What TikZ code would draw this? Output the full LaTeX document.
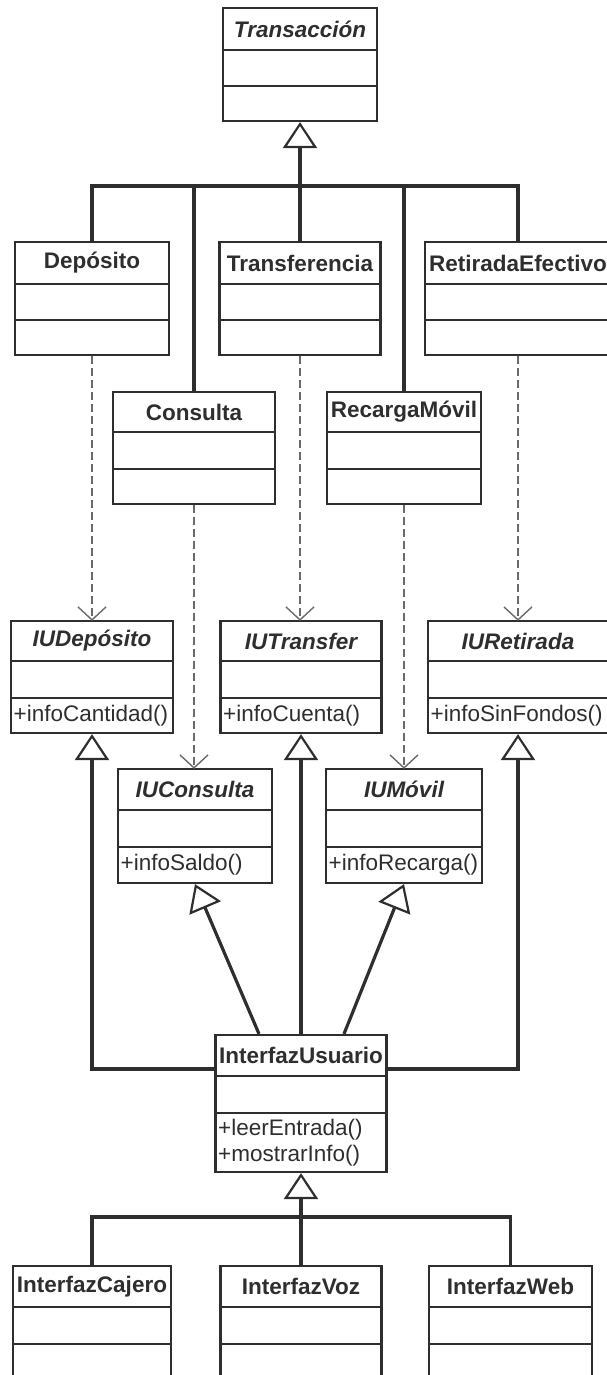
\documentclass[tikz,border=0pt]{standalone}
\usepackage{fontspec}
\setmainfont{Liberation Sans}
\usetikzlibrary{arrows.meta,fit}
\definecolor{ink}{HTML}{2E2E2E}
\definecolor{dashink}{HTML}{6A6A6A}

% open "V" head for dependencies
\pgfdeclarearrow{
  name=OpenVee,
  parameters={\the\pgfarrowlength,\the\pgfarrowwidth},
  setup code={
    \pgfarrowssettipend{0pt}
    \pgfarrowssetlineend{0pt}
    \pgfarrowshullpoint{0pt}{0pt}
    \pgfarrowsupperhullpoint{-\pgfarrowlength}{.5\pgfarrowwidth}
    \pgfarrowssavethe\pgfarrowlength
    \pgfarrowssavethe\pgfarrowwidth
  },
  drawing code={
    \pgfsetdash{}{0pt}
    \pgfpathmoveto{\pgfqpoint{-\pgfarrowlength}{.5\pgfarrowwidth}}
    \pgfpathlineto{\pgfpointorigin}
    \pgfpathlineto{\pgfqpoint{-\pgfarrowlength}{-.5\pgfarrowwidth}}
    \pgfusepathqstroke
  },
  defaults={length=13pt, width=28pt}
}

% UML class: #1 name, #2 left, #3 right, #4 top, #5 first rule, #6 second rule,
% #7 bottom, #8 class name, #9 operations
\newcommand\umlclass[9]{%
  \node[classbox, fit={(#2,#4) (#3,#7)}] (#1) {};
  \draw[rule] (#2,#5) -- (#3,#5);
  \draw[rule] (#2,#6) -- (#3,#6);
  \node[titletext] (#1-name) at ({(#2+#3)/2},{(#4+#5)/2}) {#8};
  \if\relax\detokenize{#9}\relax\else
    \node[optext] (#1-ops) at (#2,{(#6+#7)/2}) {#9};
  \fi
}

\begin{document}
\begin{tikzpicture}[x=1pt,y=-1pt,
  classbox/.style={draw=ink, line width=2.2pt, inner sep=0pt},
  rule/.style={draw=ink, line width=2.2pt},
  titletext/.style={text=ink, font=\fontsize{22.5}{26}\selectfont\bfseries, inner sep=0pt},
  optext/.style={text=ink, font=\fontsize{22.5}{26}\selectfont, inner xsep=2.5pt, inner ysep=0pt, align=left, anchor=west},
  inh/.style={draw=ink, line width=3.2pt},
  gen/.style={inh, -{Triangle[open, length=26pt, width=34pt, line width'=2.2pt]}},
  depend/.style={draw=dashink, line width=1.4pt, dash pattern=on 8pt off 4pt,
    -{OpenVee[length=13pt, width=28pt]}},
]
\useasboundingbox (0,0) rectangle (606,1375);

% abstract base class and concrete transactions
\umlclass{trans}{223}{377}{8}{50}{86}{121}{\itshape Transacción}{}
\umlclass{dep}{15}{169}{242}{284}{320}{355}{Depósito}{}
\umlclass{transf}{219.5}{380.5}{242}{284}{320}{355}{Transferencia}{}
\umlclass{ret}{425}{611}{242}{284}{320}{355}{RetiradaEfectivo}{}
\umlclass{cons}{113}{275}{392}{432}{469}{504}{Consulta}{}
\umlclass{recm}{327}{481}{392}{432}{469}{504}{RecargaMóvil}{}

% user interface contracts
\umlclass{iud}{11}{173}{621}{661}{698}{733}{\itshape IUDepósito}{+infoCantidad()}
\umlclass{iut}{220.5}{381.5}{621}{661}{698}{733}{\itshape IUTransfer}{+infoCuenta()}
\umlclass{iur}{428}{608}{621}{661}{698}{733}{\itshape IURetirada}{+infoSinFondos()}
\umlclass{iuc}{118}{272}{769}{810}{847}{883}{\itshape IUConsulta}{+infoSaldo()}
\umlclass{ium}{326}{482}{769}{810}{847}{883}{\itshape IUMóvil}{+infoRecarga()}

% common user interface and its variants
\umlclass{iu}{215.5}{386.5}{1035}{1076}{1113}{1172}{InterfazUsuario}{+leerEntrada()\\+mostrarInfo()}
\umlclass{cajero}{13}{171}{1266}{1307}{1344}{1400}{InterfazCajero}{}
\umlclass{voz}{220.5}{381.5}{1266}{1307}{1344}{1400}{InterfazVoz}{}
\umlclass{web}{429}{592}{1266}{1307}{1344}{1400}{InterfazWeb}{}

% transaction hierarchy
\coordinate (busT) at (300,186);
\draw[gen] (busT) -- (trans.south);
\foreach \n in {dep,cons,transf,recm,ret} \draw[inh] (\n.north) |- (busT);

% transactions depend on their interfaces
\draw[depend] (dep.south) -- (dep.south |- iud.north);
\draw[depend] (transf.south) -- (transf.south |- iut.north);
\draw[depend] (ret.south) -- (ret.south |- iur.north);
\draw[depend] (cons.south) -- (cons.south |- iuc.north);
\draw[depend] (recm.south) -- (recm.south |- ium.north);

% InterfazUsuario realises every interface
\draw[gen] ([yshift=-35pt]iu.north west) -| (iud.south);
\draw[gen] (iu.north) -- (iu.north |- iut.south);
\draw[gen] ([yshift=-35pt]iu.north east) -| (iur.south);
\draw[gen] ([xshift=-42pt]iu.north) -- (iuc.south);
\draw[gen] ([xshift=43pt]iu.north) -- (ium.south);

% interface variants
\coordinate (busB) at (301,1217);
\draw[gen] (busB) -- (iu.south);
\foreach \n in {cajero,voz,web} \draw[inh] (\n.north) |- (busB);
\end{tikzpicture}
\end{document}
